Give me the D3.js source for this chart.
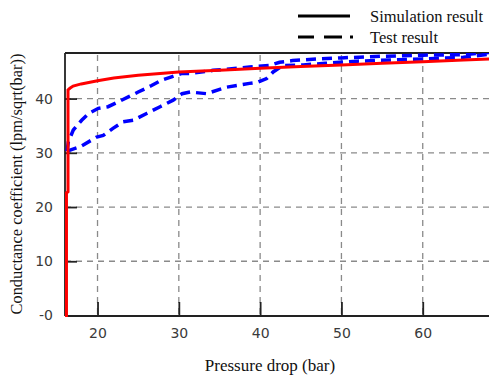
<!DOCTYPE html>
<html>
<head>
<meta charset="utf-8">
<script src="https://cdn.jsdelivr.net/npm/d3@7/dist/d3.min.js"></script>
<style>
  html, body { margin: 0; padding: 0; background: #fff; }
  svg { display: block; }
</style>
</head>
<body>
<svg id="chart" width="489" height="376"></svg>
<script>
// Simulated conductance curve
const simPressure = [16.18, 16.18, 16.37, 16.37, 16.6, 17.0, 18.0, 20.0, 22.0, 25.0, 30.0, 35.0, 40.0, 45.0, 50.0, 55.0, 60.0, 65.0, 68.2];
const simConductance = [-0.3, 22.6, 22.8, 41.6, 41.9, 42.3, 42.7, 43.3, 43.8, 44.3, 44.9, 45.2, 45.6, 45.9, 46.2, 46.5, 46.8, 47.1, 47.3];

// Measured conductance, upper branch
const testUpPressure = [16.25, 16.41, 17.02, 18.05, 18.87, 20.1, 21.3, 22.56, 23.79, 25.0, 26.65, 27.88, 29.1, 30.3, 31.35, 34.2, 38.7, 41.2, 42.4, 44.0, 47.0, 50.0, 55.0, 60.0, 65.0, 68.2];
const testUpConductance = [30.3, 32.0, 34.2, 36.0, 37.2, 38.2, 38.5, 39.4, 40.3, 41.2, 42.4, 43.4, 44.0, 44.6, 44.6, 45.2, 45.8, 46.1, 46.7, 47.0, 47.3, 47.5, 47.8, 48.0, 48.1, 48.5];

// Measured conductance, lower branch
const testLowPressure = [16.25, 16.8, 17.85, 19.9, 20.7, 21.9, 23.1, 24.4, 26.1, 27.7, 29.3, 30.4, 31.4, 33.4, 35.9, 38.7, 39.7, 40.8, 41.6, 42.8, 45.3, 48.0, 52.0, 56.0, 60.0, 65.0, 68.2];
const testLowConductance = [30.3, 30.6, 31.1, 32.9, 33.2, 34.5, 35.7, 36.0, 37.3, 38.5, 39.7, 40.9, 41.2, 40.9, 42.1, 42.8, 43.0, 43.7, 44.9, 46.1, 46.2, 46.5, 46.9, 47.1, 47.3, 47.6, 48.2];

// Axis ticks and labels
const xTicks = [20, 30, 40, 50, 60];
const yTicks = [0, 10, 20, 30, 40];
const yTickLabels = ["-0", "10", "20", "30", "40"];

const legendLabels = ["Simulation result", "Test result"];

const svg = d3.select("#chart");
const plotLeft = 65, plotRight = 489, plotTop = 53, plotBottom = 316;

const x = d3.scaleLinear().domain([16, 68.15]).range([plotLeft, plotRight]);
const y = d3.scaleLinear().domain([0, 48.4]).range([315.5, plotTop]);

svg.append("defs").append("clipPath").attr("id", "plotClip")
  .append("rect").attr("x", plotLeft).attr("y", plotTop)
  .attr("width", plotRight - plotLeft).attr("height", plotBottom - plotTop + 1);

// Grid
const grid = svg.append("g").attr("stroke", "#8a8a8a").attr("stroke-width", 1.3).attr("stroke-dasharray", "6,5");
grid.selectAll(".vg").data(xTicks).join("line")
  .attr("x1", d => x(d)).attr("x2", d => x(d))
  .attr("y1", plotTop + 2).attr("y2", plotBottom);
grid.selectAll(".hg").data(yTicks.filter(d => d > 0)).join("line")
  .attr("x1", plotLeft).attr("x2", plotRight)
  .attr("y1", d => y(d)).attr("y2", d => y(d));

// Axes
const xAxis = d3.axisBottom(x).tickValues(xTicks).tickSizeInner(-14).tickSizeOuter(0).tickPadding(12);
const yAxis = d3.axisLeft(y).tickValues(yTicks).tickSizeInner(-12).tickSizeOuter(0).tickPadding(12)
  .tickFormat((d, i) => yTickLabels[i]);

const gx = svg.append("g").attr("transform", `translate(0,${plotBottom})`).call(xAxis);
const gy = svg.append("g").attr("transform", `translate(${plotLeft},0)`).call(yAxis);

[gx, gy].forEach(g => {
  g.select(".domain").remove();
  g.selectAll(".tick line").attr("stroke", "#222").attr("stroke-width", 1.8);
  g.selectAll(".tick text").attr("fill", "#3a3a3a")
    .style("font-family", "'DejaVu Sans', sans-serif").style("font-size", "14px");
});
gx.selectAll(".tick text").attr("dy", "0.71em");

// Frame
const frame = svg.append("g").attr("stroke", "#222").attr("stroke-width", 1.8).attr("fill", "none");
frame.append("line").attr("x1", plotLeft).attr("x2", plotRight).attr("y1", plotTop).attr("y2", plotTop);
frame.append("line").attr("x1", plotLeft).attr("x2", plotLeft).attr("y1", plotTop).attr("y2", plotBottom);
frame.append("line").attr("x1", plotLeft).attr("x2", plotRight).attr("y1", plotBottom).attr("y2", plotBottom);

// Data lines
const line = d3.line().x(d => x(d[0])).y(d => y(d[1]));
const plot = svg.append("g").attr("clip-path", "url(#plotClip)").attr("fill", "none");

plot.append("path")
  .datum(d3.zip(testLowPressure, testLowConductance))
  .attr("d", line).attr("stroke", "#0000ff").attr("stroke-width", 3.5).attr("stroke-dasharray", "10,6");
plot.append("path")
  .datum(d3.zip(testUpPressure, testUpConductance))
  .attr("d", line).attr("stroke", "#0000ff").attr("stroke-width", 3.5).attr("stroke-dasharray", "10,6");
plot.append("path")
  .datum(d3.zip(simPressure, simConductance))
  .attr("d", line).attr("stroke", "#ff0000").attr("stroke-width", 3);

// Axis titles
svg.append("text")
  .attr("x", 270).attr("y", 371).attr("text-anchor", "middle")
  .style("font-family", "'Liberation Serif', serif").style("font-size", "17px").attr("fill", "#111")
  .text("Pressure drop (bar)");
svg.append("text")
  .attr("transform", "translate(22,184) rotate(-90)").attr("text-anchor", "middle")
  .style("font-family", "'Liberation Serif', serif").style("font-size", "16.4px").attr("fill", "#111")
  .text("Conductance coefficient (lpm/sqrt(bar))");

// Legend
const legend = svg.append("g");
legend.append("line").attr("x1", 298).attr("x2", 350).attr("y1", 16).attr("y2", 16)
  .attr("stroke", "#000").attr("stroke-width", 3);
legend.append("line").attr("x1", 298).attr("x2", 353).attr("y1", 37).attr("y2", 37)
  .attr("stroke", "#000").attr("stroke-width", 3).attr("stroke-dasharray", "16,10,18,8,3,10");
legend.selectAll("text").data(legendLabels).join("text")
  .attr("x", 370).attr("y", (d, i) => 22 + i * 21)
  .style("font-family", "'Liberation Serif', serif").style("font-size", "16.5px").attr("fill", "#111")
  .text(d => d);
</script>
</body>
</html>
